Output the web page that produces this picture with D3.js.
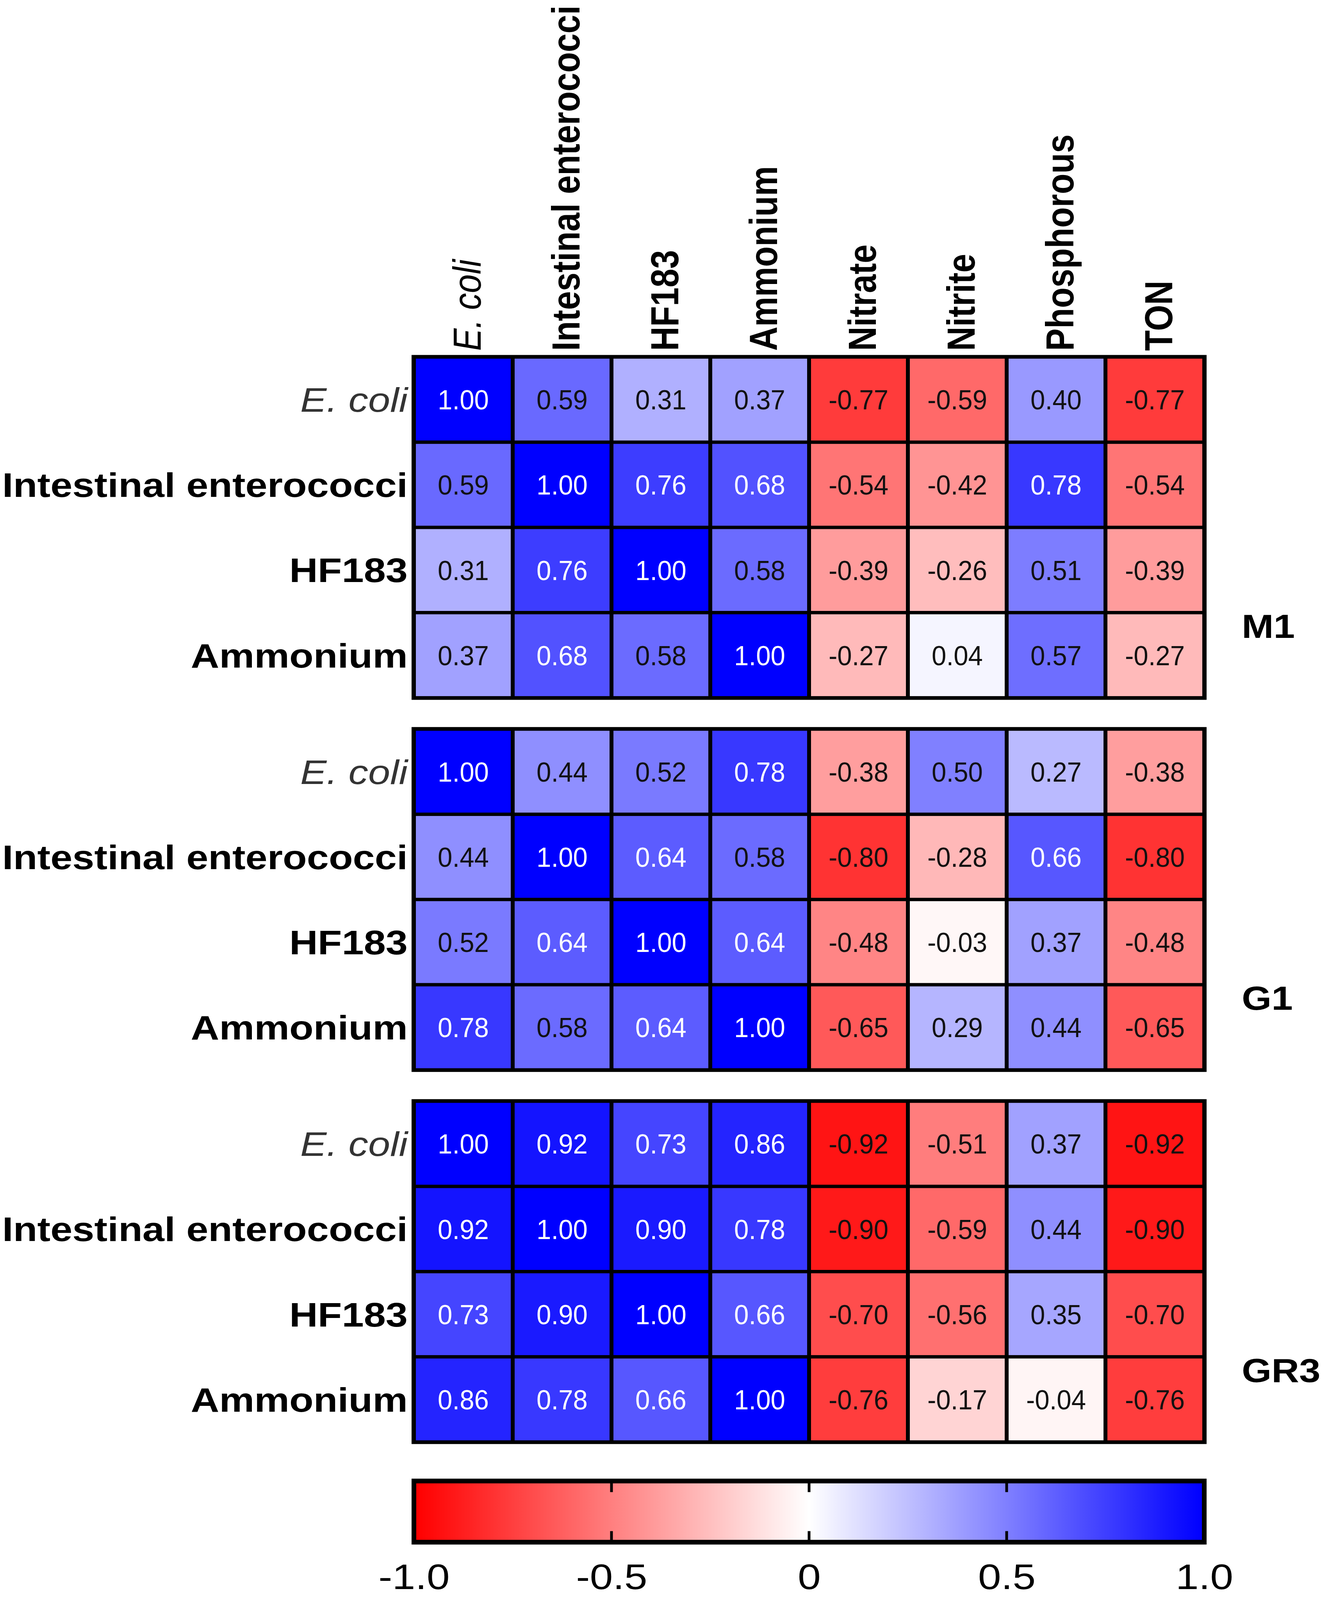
<!DOCTYPE html>
<html>
<head>
<meta charset="utf-8">
<script src="https://cdn.jsdelivr.net/npm/d3@7"></script>
<style>
  html, body { margin: 0; padding: 0; width: 100%; height: 100%; overflow: hidden; background: #fff; }
  svg { display: block; width: 100vw; height: 100vh; }
</style>
</head>
<body>
<svg id="chart" viewBox="0 0 3383 4760" preserveAspectRatio="none"></svg>
<script>
/********************************************************
 ********************* Data *****************************
 ********************************************************/
var columns = ["E. coli", "Intestinal enterococci", "HF183", "Ammonium",
               "Nitrate", "Nitrite", "Phosphorous", "TON"];
var rows = ["E. coli", "Intestinal enterococci", "HF183", "Ammonium"];
var panels = ["M1", "G1", "GR3"];

var m1_values = [
  [1.00, 0.59, 0.31, 0.37, -0.77, -0.59, 0.40, -0.77],
  [0.59, 1.00, 0.76, 0.68, -0.54, -0.42, 0.78, -0.54],
  [0.31, 0.76, 1.00, 0.58, -0.39, -0.26, 0.51, -0.39],
  [0.37, 0.68, 0.58, 1.00, -0.27, 0.04, 0.57, -0.27]
];
var g1_values = [
  [1.00, 0.44, 0.52, 0.78, -0.38, 0.50, 0.27, -0.38],
  [0.44, 1.00, 0.64, 0.58, -0.80, -0.28, 0.66, -0.80],
  [0.52, 0.64, 1.00, 0.64, -0.48, -0.03, 0.37, -0.48],
  [0.78, 0.58, 0.64, 1.00, -0.65, 0.29, 0.44, -0.65]
];
var gr3_values = [
  [1.00, 0.92, 0.73, 0.86, -0.92, -0.51, 0.37, -0.92],
  [0.92, 1.00, 0.90, 0.78, -0.90, -0.59, 0.44, -0.90],
  [0.73, 0.90, 1.00, 0.66, -0.70, -0.56, 0.35, -0.70],
  [0.86, 0.78, 0.66, 1.00, -0.76, -0.17, -0.04, -0.76]
];
var colorbar_ticks = [-1, -0.5, 0, 0.5, 1];
var colorbar_labels = ["-1.0", "-0.5", "0", "0.5", "1.0"];

var panel_values = [m1_values, g1_values, gr3_values];

/********************************************************
 ********************* Layout ***************************
 ********************************************************/
var svg = d3.select("#chart");
var left = 1060, right = 3084;
var panel_tops = [1062, 2169, 3276];
var panel_h = 1014;
var inset = 5;
var label_font = "'Liberation Sans', Arial, sans-serif";

var x = d3.scaleBand().domain(columns).range([left, right]);
var color = d3.scaleLinear().domain([-1, 0, 1])
    .range(["#ff0000", "#ffffff", "#0000ff"]);

function isItalic(name) { return name == "E. coli"; }

// column labels (rotated)
svg.append("g").selectAll("text")
    .data(columns)
    .enter().append("text")
      .attr("transform", function(d) {
        return "translate(" + (x(d) + x.bandwidth() / 2 + 8) + ",1044) rotate(-90)";
      })
      .attr("dy", "0.36em")
      .attr("text-anchor", "start")
      .style("font-family", label_font)
      .style("font-size", "100px")
      .style("font-weight", function(d) { return isItalic(d) ? "normal" : "bold"; })
      .style("font-style", function(d) { return isItalic(d) ? "italic" : "normal"; })
      .style("fill", "#000")
      .text(function(d) { return d; });

// heat-map panels
panels.forEach(function(name, p) {
  var top = panel_tops[p];
  var y = d3.scaleBand().domain(rows).range([top, top + panel_h]);
  var g = svg.append("g").attr("class", "panel");

  g.append("rect")
      .attr("x", left - 6)
      .attr("y", top - 6)
      .attr("width", right - left + 12)
      .attr("height", panel_h + 12)
      .style("fill", "#000");

  var cells = [];
  panel_values[p].forEach(function(row, i) {
    row.forEach(function(v, j) {
      cells.push({row: rows[i], col: columns[j], value: v});
    });
  });

  g.selectAll(".cell")
      .data(cells)
      .enter().append("rect")
        .attr("class", "cell")
        .attr("x", function(d) { return x(d.col) + inset; })
        .attr("y", function(d) { return y(d.row) + inset; })
        .attr("width", x.bandwidth() - 2 * inset)
        .attr("height", y.bandwidth() - 2 * inset)
        .style("fill", function(d) { return color(d.value); });

  // narrow value labels (condensed like the original)
  g.selectAll(".val")
      .data(cells)
      .enter().append("text")
        .attr("class", "val")
        .attr("transform", function(d) {
          return "translate(" + (x(d.col) + x.bandwidth() / 2) + "," +
                 (y(d.row) + y.bandwidth() / 2) + ") scale(0.82,1)";
        })
        .attr("dy", "0.36em")
        .attr("text-anchor", "middle")
        .style("font-family", label_font)
        .style("font-size", "82px")
        .style("fill", function(d) { return d.value > 0.6 ? "#fff" : "#111"; })
        .text(function(d) { return d.value.toFixed(2); });

  // row labels
  g.selectAll(".rowlab")
      .data(rows)
      .enter().append("text")
        .attr("class", "rowlab")
        .attr("x", left - 16)
        .attr("y", function(d) { return y(d) + y.bandwidth() / 2; })
        .attr("dy", "0.36em")
        .attr("text-anchor", "end")
        .style("font-family", label_font)
        .style("font-size", "101px")
        .style("font-weight", function(d) { return isItalic(d) ? "normal" : "bold"; })
        .style("font-style", function(d) { return isItalic(d) ? "italic" : "normal"; })
        .style("fill", function(d) { return isItalic(d) ? "#333" : "#000"; })
        .text(function(d) { return d; });

  // panel name
  g.append("text")
      .attr("x", 3180)
      .attr("y", top + 800)
      .attr("dy", "0.36em")
      .style("font-family", label_font)
      .style("font-size", "98px")
      .style("font-weight", "bold")
      .text(name);
});

/********************************************************
 ********************* Colour bar ***********************
 ********************************************************/
var cb_top = 4405, cb_h = 184;
var cbx = d3.scaleLinear().domain([-1, 1]).range([left, right]);

var grad = svg.append("defs").append("linearGradient")
    .attr("id", "cbgrad")
    .attr("x1", "0%").attr("x2", "100%")
    .attr("y1", "0%").attr("y2", "0%");
grad.selectAll("stop")
    .data(d3.range(0, 1.0001, 0.05))
    .enter().append("stop")
      .attr("offset", function(d) { return (d * 100) + "%"; })
      .attr("stop-color", function(d) { return color(d * 2 - 1); });

svg.append("rect")
    .attr("x", left - 6)
    .attr("y", cb_top - 6)
    .attr("width", right - left + 12)
    .attr("height", cb_h + 12)
    .style("fill", "#000");
svg.append("rect")
    .attr("x", left + 6)
    .attr("y", cb_top + 8)
    .attr("width", right - left - 12)
    .attr("height", cb_h - 16)
    .style("fill", "url(#cbgrad)");

// inner tick marks
var inner_ticks = colorbar_ticks.slice(1, -1);
svg.append("g").selectAll("line")
    .data(inner_ticks.concat(inner_ticks))
    .enter().append("line")
      .attr("x1", function(d) { return cbx(d); })
      .attr("x2", function(d) { return cbx(d); })
      .attr("y1", function(d, i) { return i < inner_ticks.length ? cb_top : cb_top + cb_h; })
      .attr("y2", function(d, i) { return i < inner_ticks.length ? cb_top + 34 : cb_top + cb_h - 34; })
      .style("stroke", "#000")
      .style("stroke-width", 7);

var cb_axis = svg.append("g")
    .attr("transform", "translate(0," + (cb_top + cb_h + 60) + ")")
    .call(d3.axisBottom(cbx)
      .tickValues(colorbar_ticks)
      .tickSize(0)
      .tickFormat(function(d, i) { return colorbar_labels[i]; }));
cb_axis.select(".domain").remove();
cb_axis.selectAll("text")
    .attr("dy", "0.71em")
    .style("font-family", label_font)
    .style("font-size", "106px")
    .style("fill", "#000");
</script>
</body>
</html>
